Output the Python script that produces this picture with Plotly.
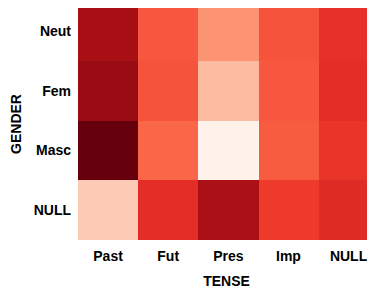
import plotly.graph_objects as go

tense = ["Past", "Fut", "Pres", "Imp", "NULL"]
gender = ["NULL", "Masc", "Fem", "Neut"]  # bottom to top
values = [
    [0.20, 0.67, 0.86, 0.63, 0.68],  # NULL
    [1.00, 0.51, 0.02, 0.54, 0.65],  # Masc
    [0.90, 0.56, 0.25, 0.55, 0.67],  # Fem
    [0.87, 0.55, 0.37, 0.56, 0.66],  # Neut
]

fig = go.Figure(go.Heatmap(
    z=values,
    x=list(range(len(tense))),
    y=list(range(len(gender))),
    colorscale="Reds",
    zmin=0, zmax=1,
    showscale=False,
    xgap=0, ygap=0,
))

font = dict(family="Liberation Sans, Arial, sans-serif", size=14, color="black", weight=700)

# page body has an 8px default margin, so the figure is sized to fit the window
fig.update_layout(
    width=367, height=281,
    margin=dict(l=70, r=0, t=0, b=49),
    paper_bgcolor="white", plot_bgcolor="white",
    font=font,
)
fig.update_xaxes(
    range=[-0.5, 4.44],
    tickvals=list(range(len(tense))), ticktext=tense,
    tickfont=font, showgrid=False, zeroline=False, showline=False, ticks="",
    ticklabelstandoff=6, automargin=False,
    title=dict(text="TENSE", font=font, standoff=14),
)
fig.update_yaxes(
    range=[-0.5, 3.383],
    tickvals=list(range(len(gender))), ticktext=gender,
    tickfont=font, showgrid=False, zeroline=False, showline=False, ticks="",
    ticklabelstandoff=6, automargin=False,
    title=dict(text="GENDER", font=font, standoff=10),
)

fig.write_html("out.html")
